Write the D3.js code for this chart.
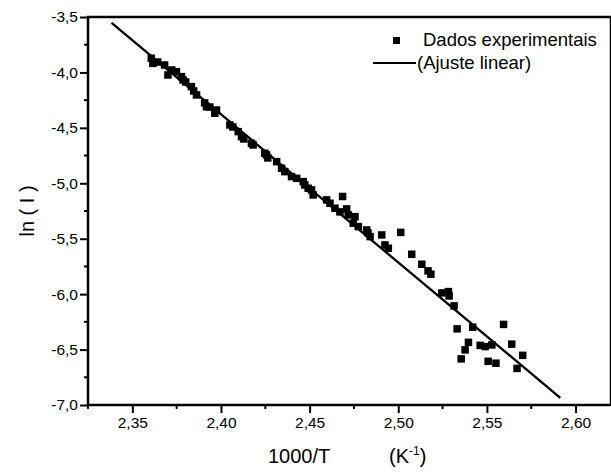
<!DOCTYPE html>
<html lang="en">
<head>
  <meta charset="UTF-8" />
  <title>ln(I) vs 1000/T</title>
  <style>
    html, body { margin:0; padding:0; background:#fff; font-family:"Liberation Sans", Arial, sans-serif; }
    svg { display:block; }
  </style>
</head>
<body>
  <div id="chart"></div>
  <script src="https://d3js.org/d3.v7.min.js"></script>
  <script>
  // experimental points: 1000/T and ln(I)
  const invT = [
    2.3607, 2.3616, 2.3643, 2.3682, 2.3701, 2.3722, 2.3749, 2.3777, 2.3786, 2.3801,
    2.3833, 2.3862, 2.3846, 2.3908, 2.3918, 2.3937, 2.3975, 2.3965, 2.4050, 2.4067,
    2.4097, 2.4116, 2.4129, 2.4172, 2.4181, 2.4257, 2.4247, 2.4264, 2.4314, 2.4342,
    2.4360, 2.4398, 2.4427, 2.4464, 2.4473, 2.4492, 2.4511, 2.4520, 2.4596, 2.4615,
    2.4643, 2.4671, 2.4686, 2.4709, 2.4718, 2.4756, 2.4746, 2.4775, 2.4822, 2.4841,
    2.4829, 2.4907, 2.4925, 2.4944, 2.5014, 2.5076, 2.5133, 2.5168, 2.5184, 2.5246,
    2.5283, 2.5287, 2.5315, 2.5332, 2.5420, 2.5594, 2.5396, 2.5377, 2.5355, 2.5462,
    2.5490, 2.5528, 2.5640, 2.5702, 2.5507, 2.5551, 2.5670
  ];
  const lnI = [
    -3.872, -3.918, -3.906, -3.933, -4.023, -3.978, -3.993, -4.038, -4.068, -4.086,
    -4.128, -4.203, -4.167, -4.275, -4.309, -4.312, -4.339, -4.368, -4.474, -4.492,
    -4.534, -4.579, -4.600, -4.639, -4.654, -4.744, -4.729, -4.771, -4.805, -4.864,
    -4.895, -4.940, -4.955, -4.985, -5.015, -5.045, -5.060, -5.105, -5.150, -5.180,
    -5.225, -5.258, -5.119, -5.231, -5.285, -5.301, -5.360, -5.391, -5.421, -5.481,
    -5.448, -5.466, -5.556, -5.586, -5.443, -5.640, -5.730, -5.790, -5.820, -5.989,
    -5.977, -6.016, -6.106, -6.313, -6.298, -6.273, -6.435, -6.503, -6.584, -6.462,
    -6.473, -6.458, -6.451, -6.552, -6.606, -6.623, -6.670
  ];

  // linear fit ln(I) = a + b * (1000/T)
  const fitRange = [2.3383, 2.5914];
  const fitIntercept = 27.686;
  const fitSlope = -13.36;

  const xTicks = [2.35, 2.40, 2.45, 2.50, 2.55, 2.60];
  const yTicks = [-7.0, -6.5, -6.0, -5.5, -5.0, -4.5, -4.0, -3.5];
  const legendLabels = ["Dados experimentais", "(Ajuste linear)"];

  const W = 611, H = 474;
  const mLeft = 88, mRight = 611, mTop = 17, mBottom = 405;

  const svg = d3.select('#chart').append('svg')
    .attr('width', W).attr('height', H);

  const x = d3.scaleLinear().domain([2.325, 2.62]).range([mLeft, mRight]);
  const y = d3.scaleLinear().domain([-7.0, -3.5]).range([mBottom, mTop]);

  const fmt = f => v => d3.format(f)(v).replace('.', ',').replace('−', '-');

  // minor ticks
  const xMinor = d3.range(2.325, 2.62 + 1e-9, 0.025).filter(v => !xTicks.some(t => Math.abs(t - v) < 1e-6));
  const yMinor = d3.range(-6.75, -3.5, 0.5);

  svg.append('g').selectAll('line').data(xMinor).join('line')
    .attr('x1', d => x(d)).attr('x2', d => x(d))
    .attr('y1', mBottom).attr('y2', mBottom + 4)
    .attr('stroke', '#000').attr('stroke-width', 2);
  svg.append('g').selectAll('line').data(yMinor).join('line')
    .attr('y1', d => y(d)).attr('y2', d => y(d))
    .attr('x1', mLeft).attr('x2', mLeft - 4)
    .attr('stroke', '#000').attr('stroke-width', 2);

  // axes
  const xAxis = svg.append('g').attr('transform', `translate(0,${mBottom})`)
    .call(d3.axisBottom(x).tickValues(xTicks).tickFormat(fmt('.2f')).tickSize(8).tickPadding(4));
  const yAxis = svg.append('g').attr('transform', `translate(${mLeft},0)`)
    .call(d3.axisLeft(y).tickValues(yTicks).tickFormat(fmt('.1f')).tickSize(8).tickPadding(2));
  [xAxis, yAxis].forEach(g => {
    g.select('.domain').remove();
    g.selectAll('.tick line').attr('stroke-width', 2);
    g.selectAll('.tick text').attr('font-size', 15.5).attr('fill', '#000')
      .attr('font-family', '"Liberation Sans", Arial, sans-serif');
  });

  // frame
  svg.append('rect')
    .attr('x', mLeft).attr('y', mTop)
    .attr('width', mRight - mLeft).attr('height', mBottom - mTop)
    .attr('fill', 'none').attr('stroke', '#000').attr('stroke-width', 2.5);

  // fit line
  svg.append('line')
    .attr('x1', x(fitRange[0])).attr('y1', y(fitIntercept + fitSlope * fitRange[0]))
    .attr('x2', x(fitRange[1])).attr('y2', y(fitIntercept + fitSlope * fitRange[1]))
    .attr('stroke', '#000').attr('stroke-width', 2.3);

  // points
  const sq = 7.5;
  svg.append('g').selectAll('rect').data(invT.map((v, i) => [v, lnI[i]])).join('rect')
    .attr('x', d => x(d[0]) - sq / 2).attr('y', d => y(d[1]) - sq / 2)
    .attr('width', sq).attr('height', sq).attr('fill', '#000');

  // legend
  const lg = svg.append('g').attr('font-size', 18.5);
  lg.append('rect').attr('x', 393).attr('y', 37).attr('width', 7).attr('height', 7).attr('fill', '#000');
  lg.append('text').attr('x', 423).attr('y', 46).text(legendLabels[0]);
  lg.append('line').attr('x1', 373).attr('x2', 416).attr('y1', 63).attr('y2', 63)
    .attr('stroke', '#000').attr('stroke-width', 2);
  lg.append('text').attr('x', 417).attr('y', 69).text(legendLabels[1]);

  // axis titles
  svg.append('text')
    .attr('transform', `translate(34,${(mTop + mBottom) / 2}) rotate(-90)`)
    .attr('text-anchor', 'middle').attr('font-size', 20)
    .text('ln ( I )');

  const xt = svg.append('text').attr('y', 463).attr('font-size', 20);
  xt.append('tspan').attr('x', 268).text('1000/T');
  xt.append('tspan').attr('x', 389).text('(K');
  xt.append('tspan').attr('font-size', 12).attr('dy', -8).text('-1');
  xt.append('tspan').attr('dy', 8).text(')');
  </script>
</body>
</html>
